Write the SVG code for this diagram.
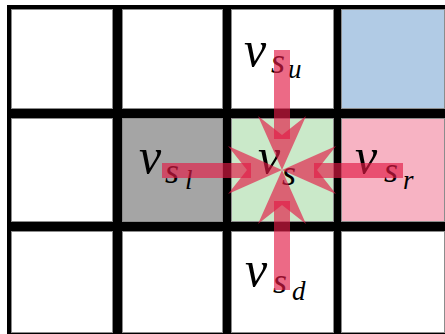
<svg xmlns="http://www.w3.org/2000/svg" width="445" height="334" viewBox="0 0 445 334">
<style>
.cell{stroke:#8c8c8c;stroke-width:1}
.w{fill:#ffffff}
.m{font-family:"Liberation Serif","DejaVu Serif",serif;font-style:italic;fill:#000}
.v{font-size:50px}
.s{font-size:36px}
.ss{font-size:27px}
.arr{fill:#e21a45;fill-opacity:0.65}
</style>
<defs>
<path id="head" d="M0,0 L-54,-24 L-35,0 L-54,24 Z"/>
</defs>
<rect x="7" y="5" width="438" height="329" fill="#000"/>
<g id="c00"><rect class="cell w" x="11.5" y="9.5" width="101" height="99"/></g>
<g id="c01"><rect class="cell w" x="122.5" y="9.5" width="100" height="99"/></g>
<g id="c02"><rect class="cell w" x="231.5" y="9.5" width="102" height="99"/>
<text class="m v" x="244" y="66">v</text>
<text class="m s" x="271" y="73">s</text>
<text class="m ss" x="288" y="78">u</text></g>
<g id="c03"><rect class="cell" fill="#b1cbe5" x="341.5" y="9.5" width="103" height="99"/></g>
<g id="c10"><rect class="cell w" x="11.5" y="118.5" width="101" height="103"/></g>
<g id="c11"><rect class="cell" fill="#a5a5a5" x="122.5" y="118.5" width="100" height="103"/>
<text class="m v" x="139" y="173">v</text>
<text class="m s" x="165" y="183">s</text>
<text class="m ss" x="185" y="189">l</text></g>
<g id="c12"><rect class="cell" fill="#cae9c9" x="231.5" y="118.5" width="102" height="103"/>
<text class="m v" x="258" y="173">v</text>
<text class="m s" x="282" y="185">s</text></g>
<g id="c13"><rect class="cell" fill="#f7b3c3" x="341.5" y="118.5" width="103" height="103"/>
<text class="m v" x="355" y="173">v</text>
<text class="m s" x="384" y="182">s</text>
<text class="m ss" x="403" y="189">r</text></g>
<g id="c20"><rect class="cell w" x="11.5" y="231.5" width="101" height="101"/></g>
<g id="c21"><rect class="cell w" x="122.5" y="231.5" width="100" height="101"/></g>
<g id="c22"><rect class="cell w" x="231.5" y="231.5" width="102" height="101"/>
<text class="m v" x="245" y="286">v</text>
<text class="m s" x="273" y="293">s</text>
<text class="m ss" x="292" y="300">d</text></g>
<g id="c23"><rect class="cell w" x="341.5" y="231.5" width="103" height="101"/></g>
<g id="connectors">
<rect class="arr" x="274" y="50" width="16" height="89"/>
<use href="#head" class="arr" transform="translate(282,170) rotate(90)"/>
<rect class="arr" x="274" y="201" width="16" height="89"/>
<use href="#head" class="arr" transform="translate(282,170) rotate(-90)"/>
<rect class="arr" x="162" y="163" width="89" height="15"/>
<use href="#head" class="arr" transform="translate(282,170)"/>
<rect class="arr" x="314" y="163" width="89" height="15"/>
<use href="#head" class="arr" transform="translate(282,170) rotate(180)"/>
</g>
</svg>
